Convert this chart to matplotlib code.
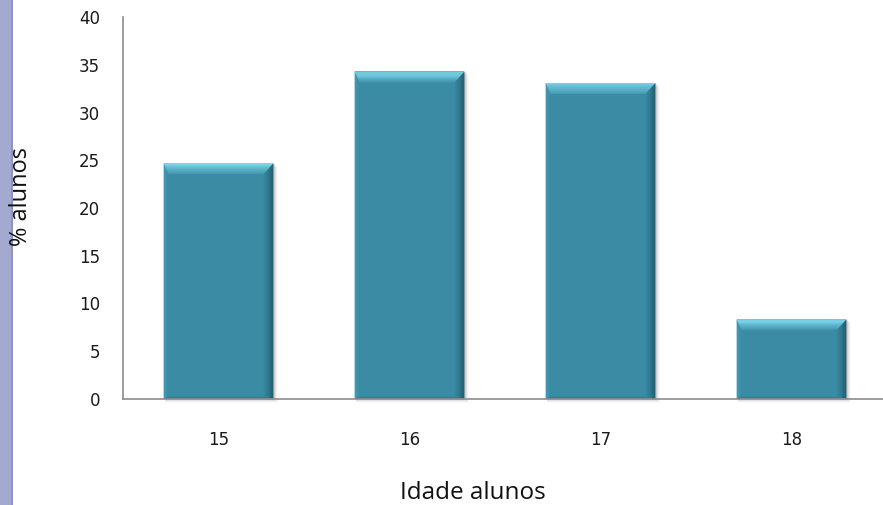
import numpy as np
import matplotlib.pyplot as plt
from matplotlib.patches import Rectangle, Polygon
from matplotlib.colors import to_rgb

# Dados: idade dos alunos e percentagem
idades = ['15', '16', '17', '18']
percentagens = [24.7, 34.3, 33.1, 8.35]

W, H, DPI = 883, 505, 100
fig = plt.figure(figsize=(W / DPI, H / DPI), dpi=DPI)

# faixa lateral esquerda
fig.patches.append(Rectangle((0, 0), 11 / W, 1, transform=fig.transFigure,
                             facecolor='#a4a9d1', edgecolor='none'))
fig.patches.append(Rectangle((11 / W, 0), 2 / W, 1, transform=fig.transFigure,
                             facecolor='#8d93c3', edgecolor='none'))

ax_left, ax_bottom = 123, 106
ax_w, ax_h = 764, 382
ax = fig.add_axes([ax_left / W, ax_bottom / H, ax_w / W, ax_h / H])

x = np.arange(len(idades))
bar_w = 0.575
ax.set_xlim(-0.5, len(idades) - 0.5)
ax.set_ylim(0, 40)

# pixels -> unidades de dados, para o chanfro
px_x = ax_w / len(idades)
px_y = ax_h / 40.0
top_b = 11 / px_y
bot_b = 3 / px_y
left_b = 5 / px_x
right_b = 10 / px_x


def mix(c1, c2, t):
    a, b = np.array(to_rgb(c1)), np.array(to_rgb(c2))
    return tuple(a + (b - a) * t)


face = '#3a8ba3'
n = 12
for xi, v in zip(x, percentagens):
    l, r = xi - bar_w / 2, xi + bar_w / 2
    # sombra
    for k, a in zip(range(1, 5), [0.09, 0.06, 0.04, 0.02]):
        ax.add_patch(Rectangle((l + 1 / px_x, -k / px_y), bar_w + k / px_x, v,
                               facecolor='black', alpha=a, edgecolor='none',
                               zorder=1, clip_on=False))
    ax.add_patch(Rectangle((l, 0), bar_w, v, facecolor=face, edgecolor='none', zorder=2))
    for i in range(n):
        t0, t1 = i / n, (i + 1) / n
        tm = (t0 + t1) / 2
        # lado esquerdo
        ax.add_patch(Polygon([(l + t0 * left_b, v - t0 * top_b), (l + t1 * left_b, v - t1 * top_b),
                              (l + t1 * left_b, t1 * bot_b), (l + t0 * left_b, t0 * bot_b)],
                             facecolor=mix('#4fa2ba', face, tm), edgecolor='none', zorder=3))
        # lado direito
        ax.add_patch(Polygon([(r - t0 * right_b, v - t0 * top_b), (r - t1 * right_b, v - t1 * top_b),
                              (r - t1 * right_b, t1 * bot_b), (r - t0 * right_b, t0 * bot_b)],
                             facecolor=mix('#184956', face, tm ** 0.7), edgecolor='none', zorder=3))
        # fundo
        ax.add_patch(Polygon([(l + t0 * left_b, t0 * bot_b), (r - t0 * right_b, t0 * bot_b),
                              (r - t1 * right_b, t1 * bot_b), (l + t1 * left_b, t1 * bot_b)],
                             facecolor=mix('#2c6e80', face, tm), edgecolor='none', zorder=3))
        # topo
        ax.add_patch(Polygon([(l + t0 * left_b, v - t0 * top_b), (r - t0 * right_b, v - t0 * top_b),
                              (r - t1 * right_b, v - t1 * top_b), (l + t1 * left_b, v - t1 * top_b)],
                             facecolor=mix('#86e0f6', '#4399b1', tm ** 1.3), edgecolor='none', zorder=3))

ax.set_xticks(x)
ax.set_xticklabels(idades)
ax.set_yticks(np.arange(0, 41, 5))

for s in ['top', 'right']:
    ax.spines[s].set_visible(False)
for s in ['left', 'bottom']:
    ax.spines[s].set_color('#8c8c8c')
    ax.spines[s].set_linewidth(1.2)
    ax.spines[s].set_zorder(4)

ax.tick_params(axis='both', length=0, labelsize=12, labelcolor='#1a1a1a')
ax.tick_params(axis='y', pad=16.5)
ax.tick_params(axis='x', pad=23)

fig.text(21 / W, 1 - 196 / H, '% alunos', rotation=90, ha='center', va='center',
         fontsize=17, family='Open Sans', color='#111111', zorder=5)
fig.text(473 / W, 1 - 493 / H, 'Idade alunos', ha='center', va='center',
         fontsize=17.5, family='Open Sans', color='#111111')

fig.savefig('out.png', dpi=DPI)
